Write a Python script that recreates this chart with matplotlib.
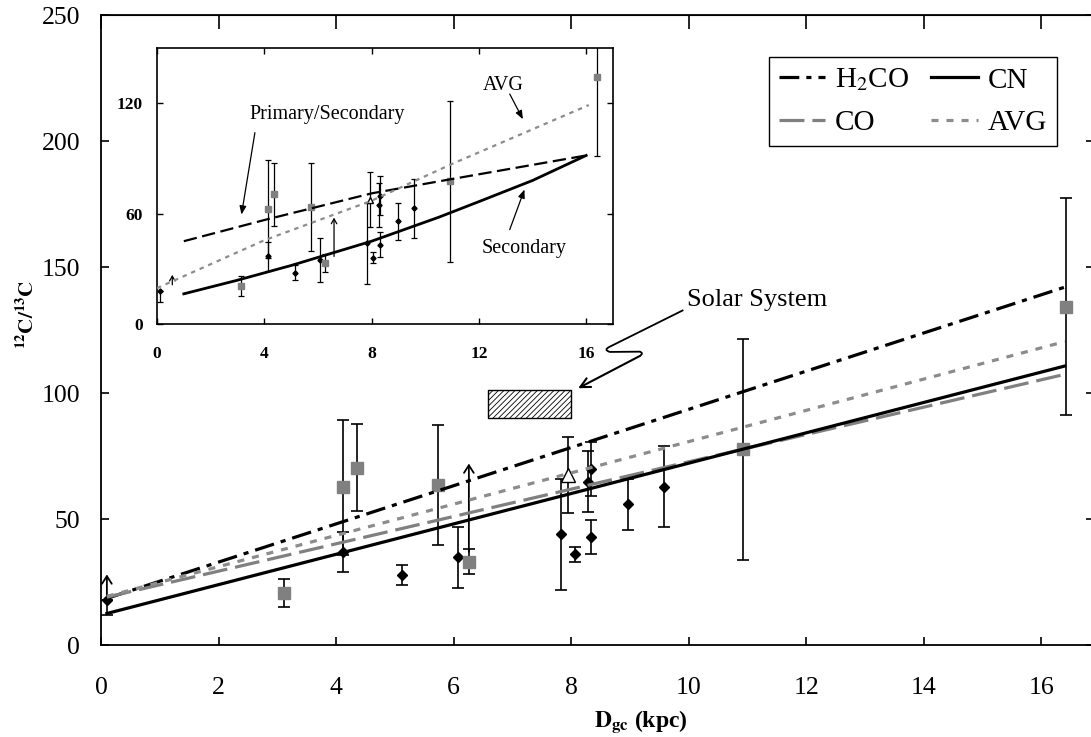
import matplotlib
matplotlib.use('Agg')
import matplotlib.pyplot as plt
from matplotlib.path import Path
from matplotlib.patches import PathPatch

plt.rcParams['font.family'] = ['Liberation Serif', 'DejaVu Serif']
plt.rcParams['mathtext.fontset'] = 'stix'
plt.rcParams['hatch.linewidth'] = 0.6
plt.rcParams['hatch.color'] = '#333333'

# CN measurements (black diamonds)
cn_x = [0.1, 4.12, 5.13, 6.08, 7.83, 8.06, 8.29, 8.33, 8.33, 8.97, 9.58]
cn_y = [18, 36.8, 27.8, 34.8, 44, 36, 64.8, 69.7, 43, 55.8, 62.8]
cn_lo = [6, 8, 4, 12, 22, 3, 12, 10.7, 6.8, 10, 16]
cn_hi = [0, 8, 4, 12, 22, 3, 12, 10.7, 6.8, 10, 16]

# CO measurements (grey squares)
co_x = [3.12, 4.12, 4.35, 5.73, 6.27, 10.92, 16.42]
co_y = [20.6, 62.6, 70.4, 63.5, 33.1, 77.6, 134.3]
co_err = [5.5, 26.7, 17.2, 24, 5, 43.7, 43]

# H2CO measurement (open triangle)
h2co_x = [7.94]
h2co_y = [67.5]
h2co_err = [15]

# lower limits (arrows)
lim_x = [0.1, 6.26]
lim_y0 = [18, 37]
lim_y1 = [28, 72]

# linear gradients
fit_x = [0.1, 16.4]
fit_h2co = [18.5, 142.0]
fit_cn = [12.5, 110.7]
fit_co = [19.0, 107.4]
fit_avg = [19.3, 120.4]

# solar system box
sun_x = [6.58, 7.99]
sun_y = [90, 101]

# inset: chemical evolution models
in_lim_x = [0.57, 6.6]
in_lim_y0 = [21.3, 36.7]
in_lim_y1 = [26.7, 57.8]
ps_x = [1, 4, 8, 11, 16]
ps_y = [45, 56.5, 71, 78.8, 91.6]
sec_x = [1, 3, 5, 8, 10.5, 12, 14, 16]
sec_y = [16.4, 23.8, 31.8, 45, 58, 66.5, 78, 91.6]
avg_x = [0, 4, 8, 11, 16.1]
avg_y = [19.5, 45.5, 67, 87, 119]

grey = '#808080'
fig = plt.figure(figsize=(10.91, 7.37), dpi=100)
ax = fig.add_axes([101 / 1091, 1 - 645 / 737, 999 / 1091, 630 / 737])


def draw_points(a, big):
    ms_d, ms_s, ms_t = (5.5, 8.5, 9.5) if big else (2.6, 3.8, 5)
    lw, cap = (1.2, 4) if big else (0.9, 2)
    a.errorbar(cn_x, cn_y, yerr=[cn_lo, cn_hi], fmt='D', color='black', ms=ms_d,
               elinewidth=lw, capsize=cap, capthick=lw, zorder=2)
    a.errorbar(co_x, co_y, yerr=co_err, fmt='s', color=grey, mec=grey, ms=ms_s,
               ecolor='black', elinewidth=lw, capsize=cap, capthick=lw, zorder=2)
    a.errorbar(h2co_x, h2co_y, yerr=h2co_err, fmt='^', mfc='white', mec='black',
               ms=ms_t, ecolor='black', elinewidth=lw, capsize=cap, capthick=lw,
               zorder=2)


draw_points(ax, True)
for x, y0, y1 in zip(lim_x, lim_y0, lim_y1):
    ax.annotate('', xy=(x, y1), xytext=(x, y0),
                arrowprops=dict(arrowstyle='->,head_length=0.55,head_width=0.35',
                                lw=1.3, color='black', shrinkA=0, shrinkB=0))

lw = 2.3
ax.plot(fit_x, fit_h2co, color='black', lw=lw, ls=(0, (6.2, 2.2, 1.6, 2.2)),
        label='H$_2$CO', zorder=3)
ax.plot(fit_x, fit_co, color=grey, lw=lw, ls=(0, (7.8, 2.5)), label='CO', zorder=3)
ax.plot(fit_x, fit_cn, color='black', lw=lw, label='CN', zorder=3)
ax.plot(fit_x, fit_avg, color='#8c8c8c', lw=lw, ls=(0, (2.2, 2.5)), label='AVG',
        zorder=3)

ax.fill_between(sun_x, sun_y[0], sun_y[1], facecolor='white', edgecolor='black',
                hatch='//////', lw=1, zorder=2)

# Solar System label with squiggly arrow
ax.text(9.98, 137, 'Solar System', fontsize=19, va='center', ha='left')
verts = [(9.91, 132.9), (8.66, 118.4), (8.54, 117.1), (8.66, 116.3),
         (9.17, 116.4), (9.24, 115.8), (9.17, 114.7)]
codes = [Path.MOVETO, Path.LINETO, Path.CURVE3, Path.CURVE3,
         Path.LINETO, Path.CURVE3, Path.CURVE3]
ax.add_patch(PathPatch(Path(verts, codes), fill=False, lw=1.3, color='black'))
ax.annotate('', xy=(8.12, 101.9), xytext=(9.17, 114.7),
            arrowprops=dict(arrowstyle='->,head_length=0.7,head_width=0.35',
                            lw=1.5, color='black', shrinkA=0, shrinkB=0))

ax.set_xlim(0, 17)
ax.set_ylim(0, 250)
ax.set_xticks(range(0, 17, 2))
ax.set_yticks(range(0, 251, 50))
ax.tick_params(direction='in', length=5.8, width=1.2, labelsize=18.5)
ax.tick_params(axis='x', pad=23)
ax.tick_params(axis='y', pad=15)
for s in ax.spines.values():
    s.set_linewidth(1.3)
top = ax.secondary_xaxis('top')
top.set_xticks(range(0, 17, 2))
top.tick_params(direction='in', length=10, width=1.2, labeltop=False)
right = ax.secondary_yaxis('right')
right.set_yticks(range(0, 251, 50))
right.tick_params(direction='in', length=10, width=1.2, labelright=False)

ax.set_xlabel(r'$\mathbf{D_{gc}}$ (kpc)', fontsize=17, fontweight='bold')
ax.xaxis.set_label_coords(0.54, -0.1)
ax.set_ylabel(r'$\mathbf{^{12}C/^{13}C}$', fontsize=15, fontweight='bold')
ax.yaxis.set_label_coords(-0.062, 0.525)

handles, labels = ax.get_legend_handles_labels()
leg = fig.legend(handles, labels, ncol=2, loc='upper left',
                 bbox_to_anchor=(769 / 1091, 1 - 57 / 737), fontsize=21,
                 frameon=True, fancybox=False, framealpha=1, edgecolor='black',
                 handlelength=1.6, columnspacing=0.76, handletextpad=0.33,
                 borderpad=0.33, labelspacing=0.56, borderaxespad=0)
leg.get_frame().set_linewidth(1.0)

# inset
ax_in = fig.add_axes([157 / 1091, 1 - 324 / 737, 456 / 1091, 276 / 737])
draw_points(ax_in, False)
for x, y0, y1 in zip(in_lim_x, in_lim_y0, in_lim_y1):
    ax_in.annotate('', xy=(x, y1), xytext=(x, y0),
                   arrowprops=dict(arrowstyle='->,head_length=0.35,head_width=0.2',
                                   lw=0.9, color='black', shrinkA=0, shrinkB=0))
ax_in.plot(ps_x, ps_y, color='black', lw=1.6, ls=(0, (6, 2.5)), zorder=3)
ax_in.plot(sec_x, sec_y, color='black', lw=2.0, zorder=3)
ax_in.plot(avg_x, avg_y, color='#8c8c8c', lw=1.6, ls=(0, (2, 2.2)), zorder=3)

arr = dict(arrowstyle='-|>,head_length=0.5,head_width=0.2', lw=0.9,
           color='black', shrinkA=0, shrinkB=0)
ax_in.text(3.45, 114, 'Primary/Secondary', fontsize=14.5, va='center')
ax_in.annotate('', xy=(3.15, 59.5), xytext=(3.65, 104), arrowprops=arr)
ax_in.text(12.9, 129.5, 'AVG', fontsize=14.5, va='center', ha='center')
ax_in.annotate('', xy=(13.64, 111.3), xytext=(13.15, 125), arrowprops=arr)
ax_in.text(13.7, 41.3, 'Secondary', fontsize=14.5, va='center', ha='center')
ax_in.annotate('', xy=(13.7, 73.1), xytext=(13.15, 51.3), arrowprops=arr)

ax_in.set_xlim(0, 17)
ax_in.set_ylim(0, 150)
ax_in.set_xticks([0, 4, 8, 12, 16])
ax_in.set_yticks([0, 60, 120])
ax_in.tick_params(direction='in', length=4, width=1, top=True, right=True,
                  labelsize=12.5)
ax_in.tick_params(axis='x', pad=16)
ax_in.tick_params(axis='y', pad=10)
for lbl in ax_in.get_xticklabels() + ax_in.get_yticklabels():
    lbl.set_fontweight('bold')
for s in ax_in.spines.values():
    s.set_linewidth(1.2)

fig.savefig('out.png', dpi=100)
